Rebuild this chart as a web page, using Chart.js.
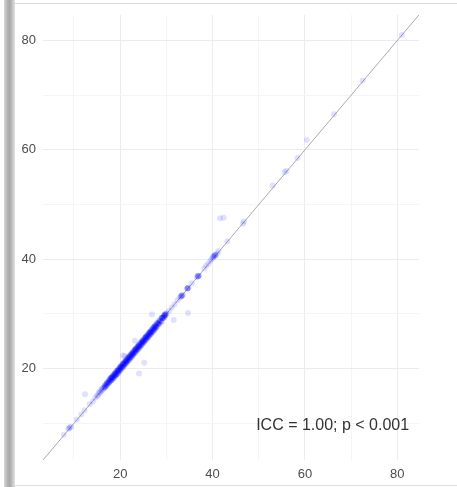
<!DOCTYPE html>
<html>
<head>
<meta charset="utf-8">
<script src="https://cdn.jsdelivr.net/npm/chart.js@4/dist/chart.umd.min.js"></script>
<style>
  html, body { margin: 0; padding: 0; background: #fff; }
  #wrap { position: relative; width: 457px; height: 487px; overflow: hidden; }
  #bar { position: absolute; left: 4px; top: 0; width: 11px; height: 487px;
         background: linear-gradient(to right, #d6d6d6, #b0b0b0 35%, #a9a9a9 55%, #cfcfcf 85%, #e2e2e2); }
  #topline { position: absolute; left: 15px; right: 0; top: 3px; height: 1px; background: #dadada; }
  #botline { position: absolute; left: 15px; right: 0; top: 485px; height: 1px; background: #dedede; }
  canvas { position: absolute; left: 0; top: 0; }
</style>
</head>
<body>
<div id="wrap">
  <div id="bar"></div>
  <div id="topline"></div>
  <div id="botline"></div>
  <canvas id="myChart" width="457" height="487"></canvas>
</div>
<script>
// rater 1 (x) and rater 2 (y)
const rater1 = [
  81.0, 72.5, 66.3, 60.4, 58.4, 56.0, 55.6, 53.0, 46.6, 46.8, 43.2, 41.6, 42.4,
  41.3, 41.0, 40.7, 40.4, 40.1, 39.8, 39.5, 39.1, 38.6, 38.2, 37.1, 36.9, 36.8, 36.6,
  35.5, 34.8, 34.6, 34.5, 33.6, 33.4, 33.3, 33.1, 32.9, 32.4, 31.8, 31.2, 30.6,
  26.9, 34.7, 31.6, 23.2, 20.6, 21.0, 25.2, 24.1, 12.4,
  16.4, 16.3, 16.1, 16.0, 15.9, 15.7, 15.5, 15.4, 15.2, 15.0,
  14.6, 14.1, 13.4, 12.3, 11.6, 10.6, 9.4, 9.1, 9.0, 8.8, 7.8
];
const rater2 = [
  81.0, 72.7, 66.5, 61.8, 58.5, 56.2, 55.9, 53.5, 46.5, 46.9, 43.3, 47.5, 47.6,
  41.5, 41.1, 40.8, 40.6, 40.3, 40.0, 39.7, 39.2, 38.8, 38.3, 37.0, 36.9, 37.0, 36.7,
  35.6, 34.8, 34.7, 34.6, 33.5, 33.4, 33.3, 33.2, 33.0, 32.5, 31.8, 31.2, 30.6,
  29.9, 30.2, 28.9, 25.1, 22.4, 22.3, 21.1, 19.1, 15.3,
  16.6, 16.2, 16.4, 15.9, 16.1, 15.6, 15.8, 15.5, 15.0, 15.1,
  14.7, 14.0, 13.5, 12.4, 11.6, 10.7, 9.4, 9.3, 9.1, 9.0, 7.9
];

// the dense band between 16.5 and 30, plus the stacked clusters above it
const band1 = [
  16.6, 16.7, 16.8,
  17.0, 17.1, 17.2, 17.3, 17.5, 17.6, 17.7, 17.8, 17.9, 18.0, 18.1, 18.2, 18.3,
  18.4, 18.5, 18.6, 18.7, 18.8, 18.9, 19.0, 19.1, 19.2, 19.3, 19.4, 19.5, 19.6,
  19.7, 19.8, 19.9, 20.0, 20.1, 20.2, 20.3, 20.4, 20.5, 20.6, 20.7, 20.8, 20.9,
  21.0, 21.1, 21.2, 21.3, 21.4, 21.5, 21.6, 21.7, 21.8, 21.9, 22.0, 22.1, 22.2,
  22.3, 22.4, 22.5, 22.6, 22.7, 22.8, 22.9, 23.0, 23.1, 23.2, 23.3, 23.4, 23.5,
  23.6, 23.7, 23.8, 23.9, 24.0, 24.1, 24.2, 24.3, 24.4, 24.5, 24.6, 24.7, 24.8,
  24.9, 25.0, 25.1, 25.2, 25.3, 25.4, 25.5, 25.6, 25.7, 25.8, 25.9, 26.0, 26.1,
  26.2, 26.3, 26.4, 26.5, 26.6, 26.7, 26.8, 26.9, 27.0, 27.1, 27.2, 27.3, 27.4,
  27.5, 27.6, 27.7, 27.8, 27.9, 28.0, 28.2, 28.4, 28.5, 28.7, 28.9, 29.0, 29.2,
  29.4, 29.6, 29.8, 30.0,
  18.2, 18.9, 19.5, 20.1, 20.7, 21.3, 21.9, 22.6, 23.3, 24.0, 24.8, 25.6,
  26.5, 27.4, 28.3, 29.1, 29.5, 29.7,
  33.3, 34.6, 36.9, 40.2, 40.6
];
const band2 = [
  16.5, 16.9, 16.7,
  17.2, 16.9, 17.5, 17.3, 17.4, 17.9, 17.6, 18.1, 17.8, 18.3, 17.9, 18.4, 18.1,
  18.7, 18.5, 18.3, 19.0, 18.8, 18.6, 19.3, 19.0, 18.9, 19.6, 19.4, 19.1, 19.9,
  19.7, 19.5, 20.2, 20.0, 19.8, 20.5, 20.3, 20.1, 20.8, 20.6, 20.4, 21.1, 20.9,
  20.7, 21.4, 21.2, 21.0, 21.7, 21.5, 21.3, 22.0, 21.8, 21.6, 22.3, 22.1, 21.9,
  22.6, 22.4, 22.2, 22.9, 22.7, 22.5, 23.2, 23.0, 22.8, 23.5, 23.3, 23.1, 23.8,
  23.6, 23.4, 24.1, 23.9, 23.7, 24.4, 24.2, 24.0, 24.7, 24.5, 24.3, 25.0, 24.8,
  24.6, 25.3, 25.1, 24.9, 25.6, 25.4, 25.2, 25.9, 25.7, 25.5, 26.2, 26.0, 25.8,
  26.5, 26.3, 26.1, 26.8, 26.6, 26.4, 27.1, 26.9, 26.7, 27.4, 27.2, 27.0, 27.7,
  27.5, 27.3, 28.0, 27.8, 27.6, 28.3, 28.2, 28.1, 28.8, 28.7, 28.6, 29.3, 29.2,
  29.3, 29.8, 29.7, 30.1,
  18.4, 19.1, 19.6, 20.3, 20.9, 21.4, 22.1, 22.7, 23.5, 24.1, 24.9, 25.8,
  26.6, 27.6, 28.4, 29.3, 29.6, 29.9,
  33.3, 34.7, 36.9, 40.5, 40.8
];

const tickValues = [10, 20, 30, 40, 50, 60, 70, 80];
const labelValues = [20, 40, 60, 80];
const axisMin = 3.3;
const axisMax = 84.7;
const annotation = "ICC = 1.00; p < 0.001";

const toPoints = (xs, ys) => xs.map((v, i) => ({ x: v, y: ys[i] }));

const gridColor = (ctx) =>
  labelValues.includes(ctx.tick && ctx.tick.value) ? "#ebebf0" : "#f5f5f8";

function axis(afterFit) {
  return {
    type: "linear",
    min: axisMin,
    max: axisMax,
    afterBuildTicks: (scale) => {
      scale.ticks = tickValues.map((v) => ({ value: v }));
    },
    afterFit: afterFit,
    border: { display: false },
    grid: { color: gridColor, lineWidth: 1, drawTicks: false },
    ticks: {
      padding: 7,
      color: "#4d4d4d",
      font: { family: "Liberation Sans, Arial, sans-serif", size: 13 },
      callback: (v) => (labelValues.includes(v) ? String(v) : ""),
    },
  };
}

const textPlugin = {
  id: "iccText",
  afterDatasetsDraw(chart) {
    const { ctx, scales } = chart;
    ctx.save();
    ctx.fillStyle = "#333333";
    ctx.font = "16px 'Liberation Sans', Arial, sans-serif";
    ctx.textAlign = "center";
    ctx.textBaseline = "middle";
    ctx.fillText(annotation, scales.x.getPixelForValue(66), scales.y.getPixelForValue(9.6));
    ctx.restore();
  },
};

const config = {
  type: "scatter",
  data: {
    datasets: [
      {
        type: "line",
        data: [{ x: axisMin, y: axisMin }, { x: axisMax, y: axisMax }],
        borderColor: "rgba(140,140,150,0.75)",
        borderWidth: 1,
        pointRadius: 0,
        order: 3,
      },
      {
        data: toPoints(rater1, rater2),
        backgroundColor: "rgba(0,0,255,0.12)",
        borderWidth: 0,
        pointRadius: 3,
        order: 2,
      },
      {
        data: toPoints(band1, band2),
        backgroundColor: "rgba(0,0,255,0.26)",
        borderWidth: 0,
        pointRadius: 3,
        order: 1,
      },
    ],
  },
  options: {
    responsive: false,
    animation: false,
    layout: { padding: { left: 0, top: 12, right: 38, bottom: 0 } },
    scales: {
      x: axis((s) => { s.height = 27; }),
      y: axis((s) => { s.width = 43; }),
    },
    plugins: {
      legend: { display: false },
      tooltip: { enabled: false },
    },
  },
  plugins: [textPlugin],
};

const myChart = new Chart(document.getElementById("myChart"), config);
</script>
</body>
</html>
